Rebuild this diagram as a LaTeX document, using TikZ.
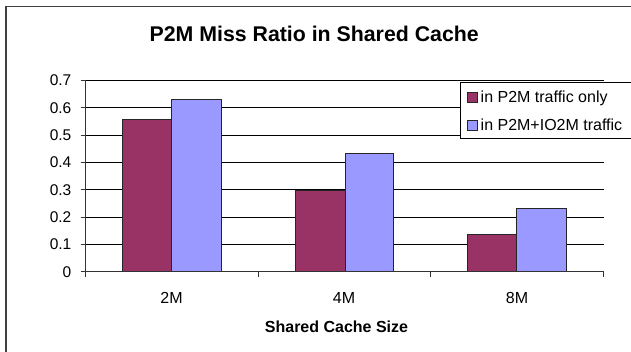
\documentclass[tikz,border=0pt]{standalone}
\usepackage{fontspec}
\setmainfont{Liberation Sans}
\definecolor{barred}{HTML}{993366}
\definecolor{barblue}{HTML}{9999FF}
\definecolor{framegray}{HTML}{404040}
\begin{document}
\begin{tikzpicture}[x=1pt,y=-1pt,
  barbox/.style={draw=black!85,line width=0.9pt},
  gridline/.style={black,line width=0.8pt},
  axisline/.style={black!80,line width=0.9pt},
  ticklab/.style={font=\fontsize{15.5}{18}\selectfont,inner sep=0pt},
  catlab/.style={font=\fontsize{16}{18}\selectfont,inner sep=0pt,anchor=base},
  legtext/.style={font=\fontsize{16}{18}\selectfont,inner sep=0pt,anchor=base west},
  titlelab/.style={font=\fontsize{21.3}{24}\selectfont\bfseries,inner sep=0pt,anchor=base},
  axtitle/.style={font=\fontsize{16}{18}\selectfont\bfseries,inner sep=0pt,anchor=base}]
\useasboundingbox (0,0) rectangle (631,352);
\fill[white] (0,0) rectangle (631,352);
% outer frame (extends beyond the image on right and bottom)
\draw[framegray,line width=1.6pt] (5.7,6.7) rectangle (680,400);
% title
\node[titlelab] (title) at (314.2,41.7) {P2M Miss Ratio in Shared Cache};
% gridlines
\foreach \v in {1,...,7}
  \draw[gridline] (85.7,{271.7-27.3*\v}) -- (603.6,{271.7-27.3*\v});
% y ticks and labels
\foreach \v/\t in {0/0,1/0.1,2/0.2,3/0.3,4/0.4,5/0.5,6/0.6,7/0.7} {
  \draw[axisline] (80.5,{271.7-27.3*\v}) -- (85.7,{271.7-27.3*\v});
  \node[ticklab,anchor=base east] (ylab\v) at (71.5,{271.7-27.3*\v+5.4}) {\t};
}
% bars
\newcommand{\valy}[1]{271.7-273*#1}
\draw[barbox,fill=barred]  (122.3,271.7) rectangle (171.8,{\valy{0.556}});
\draw[barbox,fill=barblue] (171.8,271.7) rectangle (221.0,{\valy{0.632}});
\draw[barbox,fill=barred]  (295.7,271.7) rectangle (345.0,{\valy{0.296}});
\draw[barbox,fill=barblue] (345.0,271.7) rectangle (393.0,{\valy{0.433}});
\draw[barbox,fill=barred]  (467.3,271.7) rectangle (516.7,{\valy{0.138}});
\draw[barbox,fill=barblue] (516.7,271.7) rectangle (566.0,{\valy{0.230}});
% axes
\draw[axisline] (85.7,81) -- (85.7,277);
\draw[axisline] (85.7,271.7) -- (603.6,271.7);
\foreach \x in {258.8,430.6,603.6}
  \draw[axisline] (\x,271.7) -- (\x,277);
% category labels
\node[catlab] (c2) at (171.5,303.3) {2M};
\node[catlab] (c4) at (344.0,303.3) {4M};
\node[catlab] (c8) at (517.0,303.3) {8M};
% axis title
\node[axtitle] (xtitle) at (336.5,332.7) {Shared Cache Size};
% legend
\draw[black,line width=0.9pt,fill=white] (460.5,82.3) rectangle (680,138.3);
\draw[black!85,line width=0.7pt,fill=barred]  (467.3,92.5) rectangle (477.5,102.7);
\draw[black!85,line width=0.7pt,fill=barblue] (467.3,120.1) rectangle (477.5,130.3);
\node[legtext] (leg1) at (480.5,102.7) {in P2M traffic only};
\node[legtext] (leg2) at (480.5,130.3) {in P2M+IO2M traffic};
\end{tikzpicture}
\end{document}
